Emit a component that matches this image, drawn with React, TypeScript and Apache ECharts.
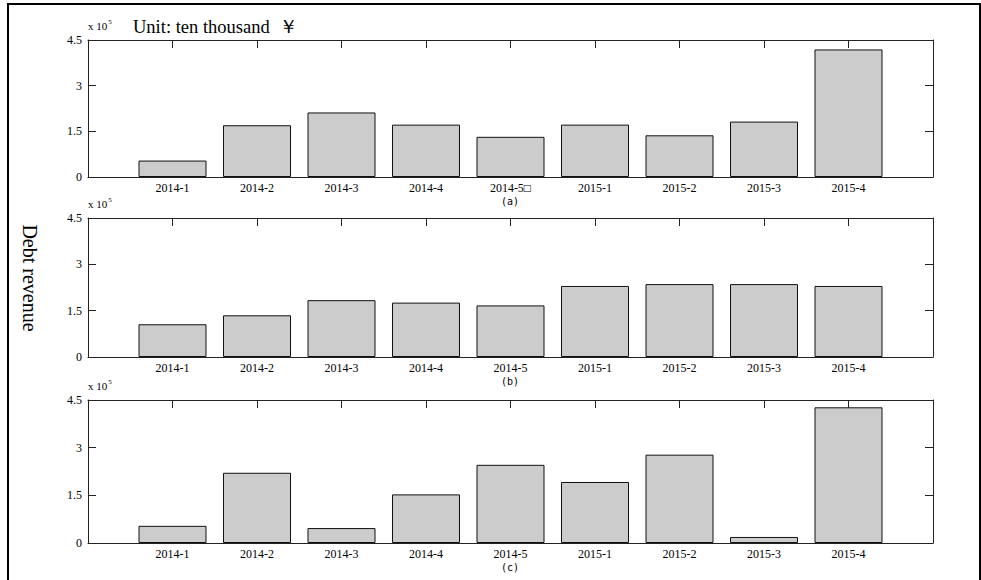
import React, { useEffect, useRef } from "react";
import * as echarts from "echarts";

const catsA = ["2014-1", "2014-2", "2014-3", "2014-4", "2014-5\u25A1", "2015-1", "2015-2", "2015-3", "2015-4"];
const catsBC = ["2014-1", "2014-2", "2014-3", "2014-4", "2014-5", "2015-1", "2015-2", "2015-3", "2015-4"];
const valuesA = [0.54, 1.7, 2.12, 1.72, 1.32, 1.72, 1.37, 1.82, 4.19];
const valuesB = [1.06, 1.35, 1.84, 1.76, 1.67, 2.3, 2.36, 2.36, 2.3];
const valuesC = [0.54, 2.21, 0.47, 1.53, 2.46, 1.92, 2.78, 0.19, 4.27];
const yTicks = [0, 1.5, 3, 4.5];
const panelLabels = ["(a)", "(b)", "(c)"];

const SERIF = "'Liberation Serif', 'Times New Roman', serif";

export default function App() {
  const ref = useRef<HTMLDivElement>(null);
  useEffect(() => {
    if (!ref.current) return;
    const chart = echarts.init(ref.current, null, { renderer: "svg" });
    const panels = [
      { top: 40, height: 137, cats: catsA, vals: valuesA },
      { top: 218, height: 139, cats: catsBC, vals: valuesB },
      { top: 400, height: 143, cats: catsBC, vals: valuesC },
    ];
    const grid: any[] = [];
    const xAxis: any[] = [];
    const yAxis: any[] = [];
    const series: any[] = [];
    const graphic: any[] = [];
    const lineStyle = { color: "#222", width: 1 };
    panels.forEach((p, i) => {
      grid.push({ left: 88, right: 48, top: p.top, height: p.height, containLabel: false });
      xAxis.push({
        type: "value", gridIndex: i, position: "bottom", min: 0, max: 10, interval: 1,
        axisLine: { show: true, onZero: false, lineStyle }, axisTick: { show: false }, splitLine: { show: false },
        axisLabel: {
          show: true, margin: 5, color: "#000", fontFamily: SERIF, fontSize: 12,
          formatter: (v: number) => (v >= 1 && v <= 9 ? p.cats[v - 1] : ""),
        },
      });
      xAxis.push({
        type: "value", gridIndex: i, position: "top", min: 0, max: 10, interval: 1,
        axisLine: { show: true, onZero: false, lineStyle }, axisTick: { show: true, inside: true, length: 8, lineStyle },
        axisLabel: { show: false }, splitLine: { show: false },
      });
      yAxis.push({
        type: "value", gridIndex: i, position: "left", min: 0, max: 4.5, interval: 1.5,
        axisLine: { show: true, onZero: false, lineStyle }, axisTick: { show: true, inside: true, length: 8, lineStyle },
        splitLine: { show: false },
        axisLabel: {
          show: true, margin: 6, color: "#000", fontFamily: SERIF, fontSize: 12,
          formatter: (v: number) => {
            const t = yTicks.find((k) => Math.abs(k - v) < 1e-6);
            return t === undefined ? "" : String(t);
          },
        },
      });
      yAxis.push({
        type: "value", gridIndex: i, position: "right", min: 0, max: 4.5, interval: 1.5,
        axisLine: { show: true, onZero: false, lineStyle }, axisTick: { show: true, inside: true, length: 8, lineStyle },
        splitLine: { show: false }, axisLabel: { show: false },
      });
      series.push({
        type: "bar", xAxisIndex: i * 2, yAxisIndex: i * 2, barWidth: 68,
        data: p.vals.map((v, k) => [k + 1, v]),
        itemStyle: { color: "#cccccc", borderColor: "#111", borderWidth: 1 },
        silent: true,
      });
      graphic.push({
        type: "text", x: 88, y: p.top - 14,
        style: {
          text: "{a|x 10}{s|5}",
          rich: {
            a: { fontFamily: SERIF, fontSize: 11, fill: "#000" },
            s: { fontFamily: SERIF, fontSize: 7, fill: "#000", padding: [0, 0, 8, 1] },
          },
          verticalAlign: "middle",
        },
      });
      graphic.push({
        type: "text", x: 510, y: p.top + p.height + 24,
        style: {
          text: panelLabels[i], fontFamily: "'DejaVu Sans Mono', monospace", fontSize: 10,
          fill: "#000", align: "center", verticalAlign: "middle",
        },
      });
    });
    graphic.push({
      type: "text", x: 133, y: 27,
      style: { text: "Unit: ten thousand  \uFFE5", fontFamily: SERIF, fontSize: 18.5, fill: "#000", verticalAlign: "middle" },
    });
    graphic.push({
      type: "text", x: 30, y: 278, rotation: -Math.PI / 2,
      style: { text: "Debt revenue", fontFamily: SERIF, fontSize: 20, fill: "#000", align: "center", verticalAlign: "middle" },
    });
    graphic.push({
      type: "rect", shape: { x: 8, y: 4, width: 972, height: 620 },
      style: { fill: "none", stroke: "#000", lineWidth: 2 },
      silent: true,
    });
    chart.setOption({
      animation: false,
      backgroundColor: "#fff",
      grid, xAxis, yAxis, series, graphic,
    });
    return () => chart.dispose();
  }, []);
  return <div ref={ref} style={{ position: "fixed", left: 0, top: 0, width: 981, height: 580 }} />;
}
